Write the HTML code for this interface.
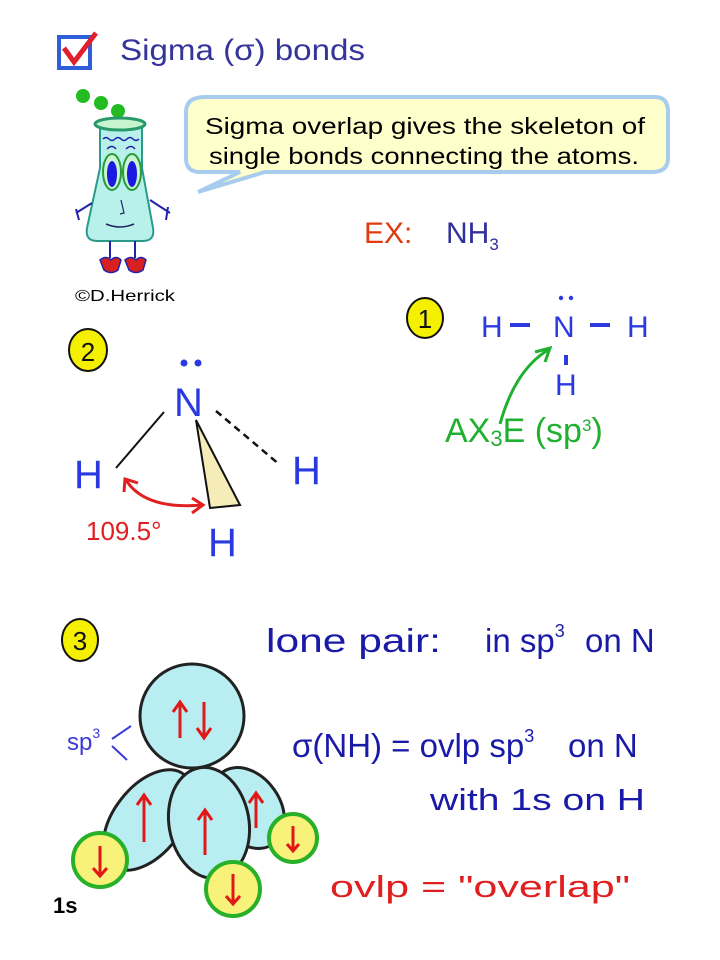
<!DOCTYPE html>
<html><head><meta charset="utf-8"><style>
html,body{margin:0;padding:0;background:#fff;width:720px;height:960px;overflow:hidden}
svg{display:block}
text{font-family:"Liberation Sans","DejaVu Sans",sans-serif}
</style></head><body>
<svg width="720" height="960" viewBox="0 0 720 960" xmlns="http://www.w3.org/2000/svg">
<rect x="59" y="37" width="31" height="31" fill="none" stroke="#2f5fd8" stroke-width="4"/>
<path d="M64 48 L74 62 L96 33" fill="none" stroke="#e0202c" stroke-width="5"/>
<text x="120" y="60" font-size="30" fill="#34349a" textLength="245" lengthAdjust="spacingAndGlyphs">Sigma (σ) bonds</text>
<path d="M205 97 H655 Q668 97 668 112 V158 Q668 172 652 172 H265 L198 192 L240 172 H200 Q186 172 186 158 V112 Q186 97 205 97 Z" fill="#ffffcc" stroke="#a8ccee" stroke-width="4"/>
<text x="205" y="134" font-size="23" fill="#000" textLength="440" lengthAdjust="spacingAndGlyphs">Sigma overlap gives the skeleton of</text>
<text x="209" y="164" font-size="23" fill="#000" textLength="430" lengthAdjust="spacingAndGlyphs">single bonds connecting the atoms.</text>
<circle cx="83" cy="96" r="7" fill="#22bb22"/><circle cx="101" cy="103" r="7" fill="#22bb22"/><circle cx="118" cy="111" r="7" fill="#22bb22"/>
<path d="M100 124 L142 124 L142 168 L153 228 Q155 241 143 241 L97 241 Q85 241 87 228 L100 168 Z" fill="#b8f0ea" stroke="#2a9a8a" stroke-width="2"/>
<ellipse cx="120" cy="124" rx="25" ry="6" fill="#c8f5d0" stroke="#2a9a6a" stroke-width="3"/>
<path d="M103 139 q3 -3 6 0 q3 3 6 0 q3 -3 6 0 q3 3 6 0 q3 -3 6 0 q3 3 6 0" fill="none" stroke="#2222aa" stroke-width="1.5"/>
<path d="M107 149 q5 -5 9 0 M126 149 q5 -5 9 0" fill="none" stroke="#2222aa" stroke-width="1.5"/>
<ellipse cx="112" cy="172" rx="9" ry="18" fill="#c8f5d0" stroke="#2a9a3a" stroke-width="2"/>
<ellipse cx="132" cy="172" rx="9" ry="18" fill="#c8f5d0" stroke="#2a9a3a" stroke-width="2"/>
<ellipse cx="112" cy="174" rx="5" ry="13" fill="#1a1ae0"/>
<ellipse cx="132" cy="174" rx="5" ry="13" fill="#1a1ae0"/>
<path d="M121 200 L124 213 L120 214" fill="none" stroke="#226" stroke-width="1.2"/>
<path d="M106 224 q14 6 28 0" fill="none" stroke="#226" stroke-width="1.5"/>
<path d="M92 203 L76 213 M76 209 L79 220 M150 200 L170 213 M168 207 L166 220" fill="none" stroke="#2222aa" stroke-width="2"/>
<path d="M110 241 V258 M135 241 V258" stroke="#2222aa" stroke-width="2"/>
<path d="M100 260 q6 -5 11 0 q5 -5 10 0 l-3 10 q-7 5 -14 0 z" fill="#d82020" stroke="#2222aa" stroke-width="1.5"/>
<path d="M125 260 q6 -5 11 0 q5 -5 10 0 l-3 10 q-7 5 -14 0 z" fill="#d82020" stroke="#2222aa" stroke-width="1.5"/>
<text x="75" y="301" font-size="16" fill="#000" textLength="100" lengthAdjust="spacingAndGlyphs">©D.Herrick</text>
<text x="364" y="243" font-size="30" fill="#e03a10">EX:</text>
<text x="446" y="243" font-size="30" fill="#30309a">NH<tspan font-size="17" dy="7">3</tspan></text>
<ellipse cx="425" cy="318" rx="18" ry="20" fill="#f5f000" stroke="#111" stroke-width="2"/>
<text x="425" y="328" font-size="26" text-anchor="middle" fill="#111">1</text>
<g fill="#2a3ae0" font-size="30">
<text x="481" y="337">H</text><text x="553" y="337">N</text><text x="627" y="337">H</text><text x="555" y="395">H</text>
</g>
<path d="M510 325 H530 M590 325 H610 M566 355 V365" stroke="#2a3ae0" stroke-width="4"/>
<circle cx="561" cy="298" r="2.2" fill="#2a3ae0"/><circle cx="571" cy="298" r="2.2" fill="#2a3ae0"/>
<path d="M500 424 Q515 370 548 350" fill="none" stroke="#20b030" stroke-width="3"/>
<path d="M535 352 L550 348 L545 362" fill="none" stroke="#20b030" stroke-width="3"/>
<text x="445" y="442" font-size="34" fill="#20b030">AX<tspan font-size="22" dy="4">3</tspan><tspan dy="-4">E (sp</tspan><tspan font-size="17" dy="-11">3</tspan><tspan dy="11">)</tspan></text>
<ellipse cx="88" cy="350" rx="19" ry="21" fill="#f5f000" stroke="#111" stroke-width="2"/>
<text x="88" y="361" font-size="26" text-anchor="middle" fill="#111">2</text>
<circle cx="184" cy="363" r="3.5" fill="#2a3ae0"/><circle cx="198" cy="363" r="3.5" fill="#2a3ae0"/>
<text x="174" y="416" font-size="40" fill="#2a3ae0">N</text>
<text x="74" y="488" font-size="40" fill="#2a3ae0">H</text>
<text x="292" y="484" font-size="40" fill="#2a3ae0">H</text>
<text x="208" y="556" font-size="40" fill="#2a3ae0">H</text>
<path d="M164 412 L116 468" stroke="#111" stroke-width="2"/>
<path d="M216 411 L280 465" stroke="#111" stroke-width="2.5" stroke-dasharray="7 5"/>
<path d="M196 420 L240 505 L210 508 Z" fill="#f5ecb8" stroke="#111" stroke-width="2"/>
<path d="M126 480 Q145 510 203 505" fill="none" stroke="#e02020" stroke-width="3"/>
<path d="M124 492 L125 479 L138 483 M192 498 L203 505 L192 513" fill="none" stroke="#e02020" stroke-width="3"/>
<text x="86" y="540" font-size="26" fill="#e02020">109.5°</text>
<ellipse cx="80" cy="640" rx="18" ry="21" fill="#f5f000" stroke="#111" stroke-width="2"/>
<text x="80" y="650" font-size="26" text-anchor="middle" fill="#111">3</text>
<g fill="#1a1aa8" font-size="33">
<text x="266" y="652" textLength="175" lengthAdjust="spacingAndGlyphs">lone pair:</text>
<text x="485" y="652">in sp<tspan font-size="18" dy="-15">3</tspan></text>
<text x="585" y="652">on N</text>
<text x="292" y="757">σ(NH) = ovlp sp<tspan font-size="18" dy="-15">3</tspan></text>
<text x="568" y="757">on N</text>
<text x="430" y="810" font-size="31" textLength="215" lengthAdjust="spacingAndGlyphs">with 1s on H</text>
</g>
<text x="330" y="897" font-size="31" fill="#e02020" textLength="300" lengthAdjust="spacingAndGlyphs">ovlp = "overlap"</text>
<text x="67" y="750" font-size="24" fill="#3a3ad8">sp<tspan font-size="14" dy="-12">3</tspan></text>
<path d="M112 739 L131 726 M112 746 L127 760" stroke="#3a3ad8" stroke-width="2"/>
<g stroke="#222" stroke-width="3" fill="#b8eef2">
<ellipse cx="148" cy="820" rx="34" ry="58" transform="rotate(38 148 820)"/>
<ellipse cx="248" cy="808" rx="32" ry="44" transform="rotate(-35 248 808)"/>
<ellipse cx="209" cy="823" rx="40" ry="56" transform="rotate(-10 209 823)"/>
<ellipse cx="192" cy="716" rx="52" ry="52"/>
</g>
<g fill="#f8f27a" stroke="#28b028" stroke-width="4">
<circle cx="100" cy="860" r="27"/><circle cx="233" cy="889" r="27"/><circle cx="293" cy="838" r="24"/>
</g>
<g stroke="#e01818" stroke-width="3" fill="none">
<path d="M180 738 V702 M173 712 L180 702 L187 712"/>
<path d="M204 702 V738 M197 728 L204 738 L211 728"/>
<path d="M144 842 V795 M137 805 L144 795 L151 805"/>
<path d="M205 855 V810 M198 820 L205 810 L212 820"/>
<path d="M256 828 V793 M249 803 L256 793 L263 803"/>
<path d="M100 846 V876 M93 868 L100 876 L107 868"/>
<path d="M233 874 V904 M226 896 L233 904 L240 896"/>
<path d="M293 826 V851 M287 844 L293 851 L299 844"/>
</g>
<text x="53" y="913" font-size="22" font-weight="bold" fill="#000" font-family="Liberation Serif">1s</text>
</svg>
</body></html>
